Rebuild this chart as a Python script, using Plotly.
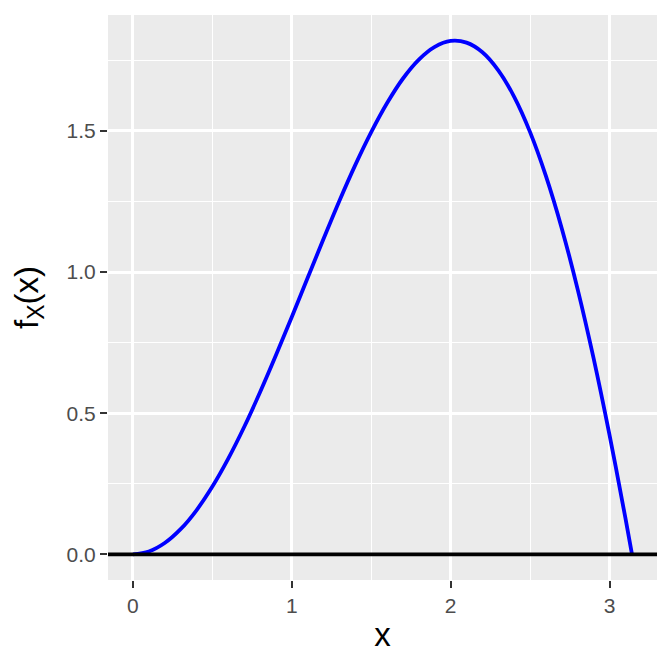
import plotly.graph_objects as go

x_vals = [0.0, 0.1, 0.2, 0.3, 0.4, 0.5, 0.6, 0.7, 0.8, 0.9, 1.0, 1.1, 1.2, 1.3, 1.4, 1.5,
          1.6, 1.7, 1.8, 1.9, 2.0, 2.1, 2.2, 2.3, 2.4, 2.5, 2.6, 2.7, 2.8, 2.9, 3.0, 3.1, 3.1416]
y_vals = [0.0, 0.010, 0.040, 0.089, 0.156, 0.240, 0.339, 0.451, 0.574, 0.705, 0.841, 0.980,
          1.118, 1.253, 1.380, 1.496, 1.599, 1.686, 1.753, 1.798, 1.819, 1.813, 1.779, 1.715,
          1.621, 1.496, 1.340, 1.154, 0.938, 0.694, 0.423, 0.129, 0.0]
x_ticks = [0, 1, 2, 3]
y_ticks = [0.0, 0.5, 1.0, 1.5]
y_tick_labels = ["0.0", "0.5", "1.0", "1.5"]
hline_y = 0.0

fig = go.Figure()
fig.add_trace(go.Scatter(x=x_vals, y=y_vals, mode="lines",
                         line=dict(color="#0000FF", width=3.8, shape="spline"),
                         hoverinfo="skip", showlegend=False))
fig.add_hline(y=hline_y, line=dict(color="black", width=3.8))

axis_common = dict(ticks="outside", ticklen=7, tickwidth=2, tickcolor="#333333",
                   showline=False, zeroline=False, gridcolor="white", gridwidth=2.6,
                   tickfont=dict(size=21, color="#4D4D4D"))

fig.update_layout(
    width=672, height=672,
    margin=dict(l=108, r=15, t=15, b=92),
    paper_bgcolor="white", plot_bgcolor="#EBEBEB",
    font=dict(family="Liberation Sans"),
    xaxis=dict(range=[-0.157, 3.299], tickvals=x_ticks,
               minor=dict(dtick=0.5, tick0=0, showgrid=True, gridcolor="white", gridwidth=1.3, ticks=""),
               title=dict(text="x", font=dict(size=33, color="black"), standoff=6),
               **axis_common),
    yaxis=dict(range=[-0.091, 1.911], tickvals=y_ticks, ticktext=y_tick_labels,
               minor=dict(dtick=0.25, tick0=0, showgrid=True, gridcolor="white", gridwidth=1.3, ticks=""),
               title=dict(text="f<sub><span style='font-size:23px'>X</span></sub>(x)",
                          font=dict(size=33, color="black"), standoff=18),
               **axis_common),
)

fig.write_html("out.html", config={"displayModeBar": False},
               post_script="document.body.style.margin='0';")
